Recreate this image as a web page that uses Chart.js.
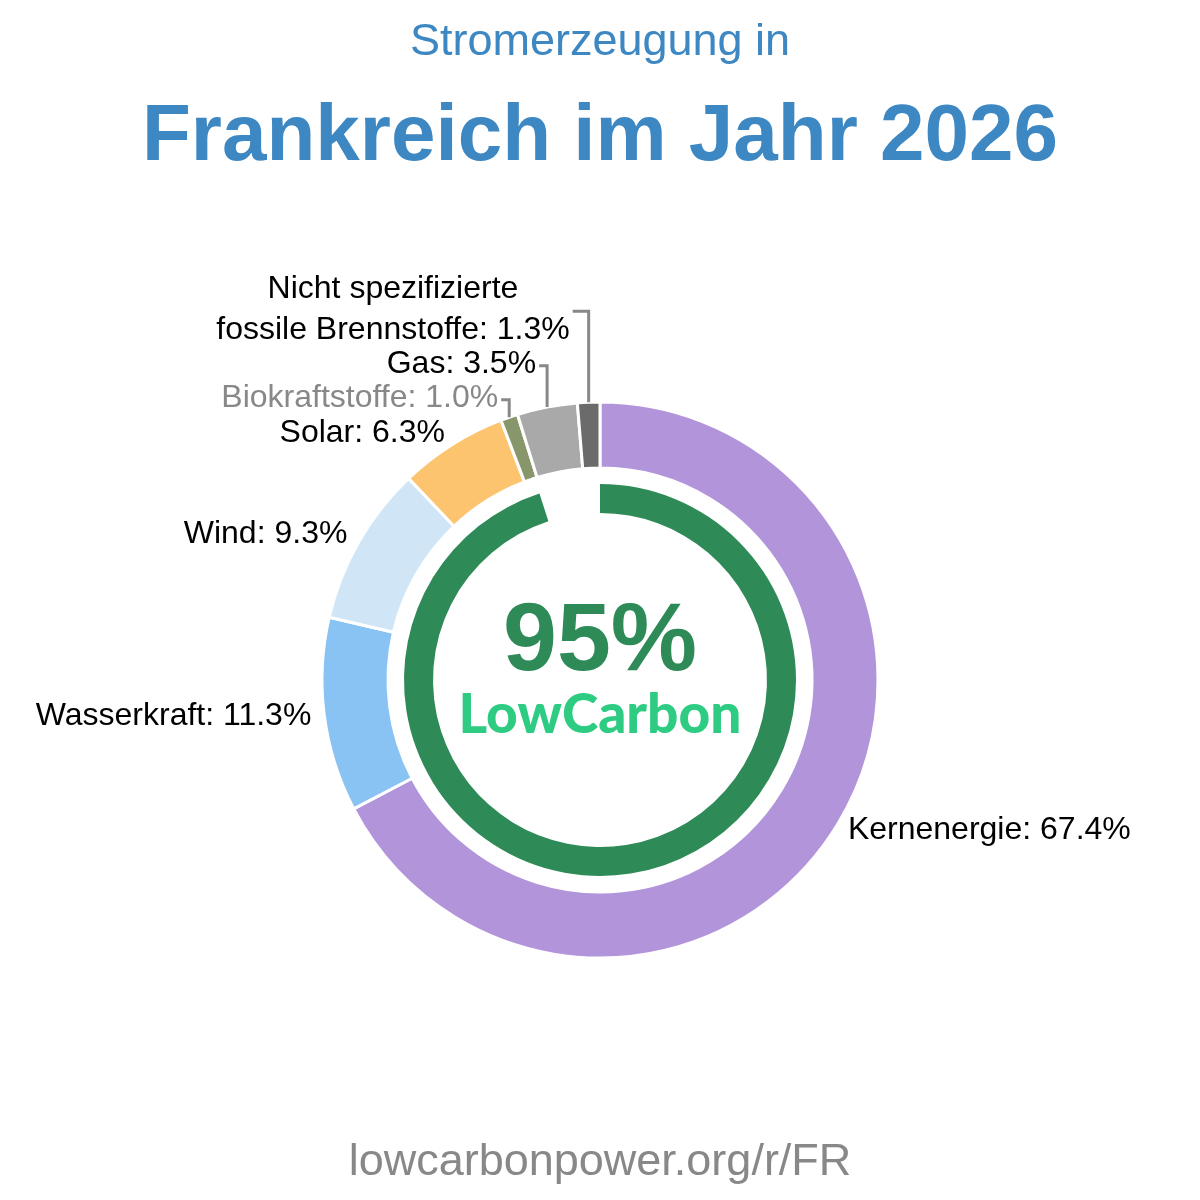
<!DOCTYPE html>
<html>
<head>
<meta charset="utf-8">
<script src="https://cdn.jsdelivr.net/npm/chart.js@4.4.1/dist/chart.umd.min.js"></script>
<style>
html,body{margin:0;padding:0;background:#fff;}
#wrap{width:1200px;height:1200px;position:relative;}
</style>
</head>
<body>
<div id="wrap"><canvas id="c" width="1200" height="1200"></canvas></div>
<script>
// ---- data ----
const titleTop = "Stromerzeugung in";
const titleMain = "Frankreich im Jahr 2026";
const footer = "lowcarbonpower.org/r/FR";
const categories = ["Kernenergie", "Wasserkraft", "Wind", "Solar", "Biokraftstoffe", "Gas", "Nicht spezifizierte fossile Brennstoffe"];
const labelLines = [["Kernenergie: 67.4%"], ["Wasserkraft: 11.3%"], ["Wind: 9.3%"], ["Solar: 6.3%"], ["Biokraftstoffe: 1.0%"], ["Gas: 3.5%"], ["Nicht spezifizierte", "fossile Brennstoffe: 1.3%"]];
const shares = [67.4, 11.3, 9.3, 6.3, 1.0, 3.5, 1.3];
const sliceColors = ["#b294db", "#89c3f3", "#d0e6f7", "#fdc470", "#88976b", "#a9a9a9", "#6b6b6b"];
const labelColors = ["#000", "#000", "#000", "#000", "#888", "#000", "#000"];
const lowCarbonShare = 95;
const lowCarbonValues = [lowCarbonShare, 100 - lowCarbonShare];

const labelPlugin = {
  id: 'labels',
  afterDraw(chart) {
    const ctx = chart.ctx;
    const meta = chart.getDatasetMeta(0);
    const cx = (chart.chartArea.left + chart.chartArea.right) / 2;
    const cy = (chart.chartArea.top + chart.chartArea.bottom) / 2;
    ctx.save();
    // titles
    ctx.textAlign = 'center';
    ctx.textBaseline = 'alphabetic';
    ctx.fillStyle = '#3d87c2';
    ctx.font = '45px "Liberation Sans", Arial, sans-serif';
    ctx.fillText(titleTop, 600, 55);
    ctx.font = 'bold 80px "Liberation Sans", Arial, sans-serif';
    ctx.fillText(titleMain, 600, 160);
    ctx.fillStyle = '#888';
    ctx.font = '45px "Liberation Sans", Arial, sans-serif';
    ctx.fillText(footer, 600, 1175);
    // centre
    ctx.fillStyle = '#2e8b57';
    ctx.font = 'bold 97px "Liberation Sans", Arial, sans-serif';
    ctx.fillText(lowCarbonShare + "%", cx, 670);
    ctx.fillStyle = '#2ecc82';
    ctx.font = '900 55px Lato, "Liberation Sans", sans-serif';
    ctx.fillText("LowCarbon", cx, 733);

    // slice labels
    ctx.font = '32px "Liberation Sans", Arial, sans-serif';
    ctx.textBaseline = 'middle';
    const lineGap = 34, innerGap = 41, labelR = 13;
    let prevTop = null;
    meta.data.forEach((arc, i) => {
      const p = arc.getProps(['startAngle', 'endAngle', 'outerRadius'], true);
      const mid = (p.startAngle + p.endAngle) / 2;
      const r = p.outerRadius + labelR;
      const nx = cx + Math.cos(mid) * r;
      const ny = cy + Math.sin(mid) * r;
      const lines = labelLines[i];
      ctx.fillStyle = labelColors[i];
      if (Math.cos(mid) >= 0) {
        ctx.textAlign = 'left';
        lines.forEach((t, k) => ctx.fillText(t, nx - 1, ny - 1 + (k - (lines.length - 1) / 2) * innerGap));
        return;
      }
      // left side: stack upward to avoid overlaps
      let bottomY = ny;
      let moved = false;
      if (prevTop !== null && bottomY > prevTop - lineGap) { bottomY = prevTop - lineGap; moved = true; }
      const topY = bottomY - (lines.length - 1) * innerGap;
      prevTop = topY;
      if (!moved) {
        ctx.textAlign = 'right';
        lines.forEach((t, k) => ctx.fillText(t, nx, topY - 1 + k * innerGap));
      } else {
        const ax = cx + Math.cos(mid) * (p.outerRadius);
        const ay = cy + Math.sin(mid) * (p.outerRadius);
        const blockY = (topY + bottomY) / 2;
        const hook = lines.length > 1 ? 16 : 8;
        ctx.strokeStyle = '#888';
        ctx.lineWidth = 3;
        ctx.beginPath();
        ctx.moveTo(ax, ay);
        ctx.lineTo(ax, blockY);
        ctx.lineTo(ax - hook, blockY);
        ctx.stroke();
        ctx.textAlign = 'center';
        const w = Math.max(...lines.map(t => ctx.measureText(t).width));
        const rx = ax - hook - 3;
        lines.forEach((t, k) => ctx.fillText(t, rx - w / 2, topY - 2 + k * innerGap));
      }
    });
    ctx.restore();
  }
};

new Chart(document.getElementById('c'), {
  type: 'doughnut',
  data: {
    labels: categories,
    datasets: [
      { data: shares, backgroundColor: sliceColors, borderColor: '#fff', borderWidth: 3, weight: 66 },
      { data: [1], backgroundColor: 'rgba(0,0,0,0)', borderWidth: 0, weight: 16 },
      { data: lowCarbonValues, backgroundColor: ['#2e8b57', 'rgba(0,0,0,0)'], borderWidth: 0, weight: 29 }
    ]
  },
  options: {
    responsive: false,
    maintainAspectRatio: false,
    animation: false,
    radius: 278,
    cutout: (167 / 278 * 100) + '%',
    layout: { padding: { top: 200, bottom: 40, left: 0, right: 0 } },
    plugins: { legend: { display: false }, tooltip: { enabled: false }, title: { display: false } },
    events: []
  },
  plugins: [labelPlugin]
});
</script>
</body>
</html>
